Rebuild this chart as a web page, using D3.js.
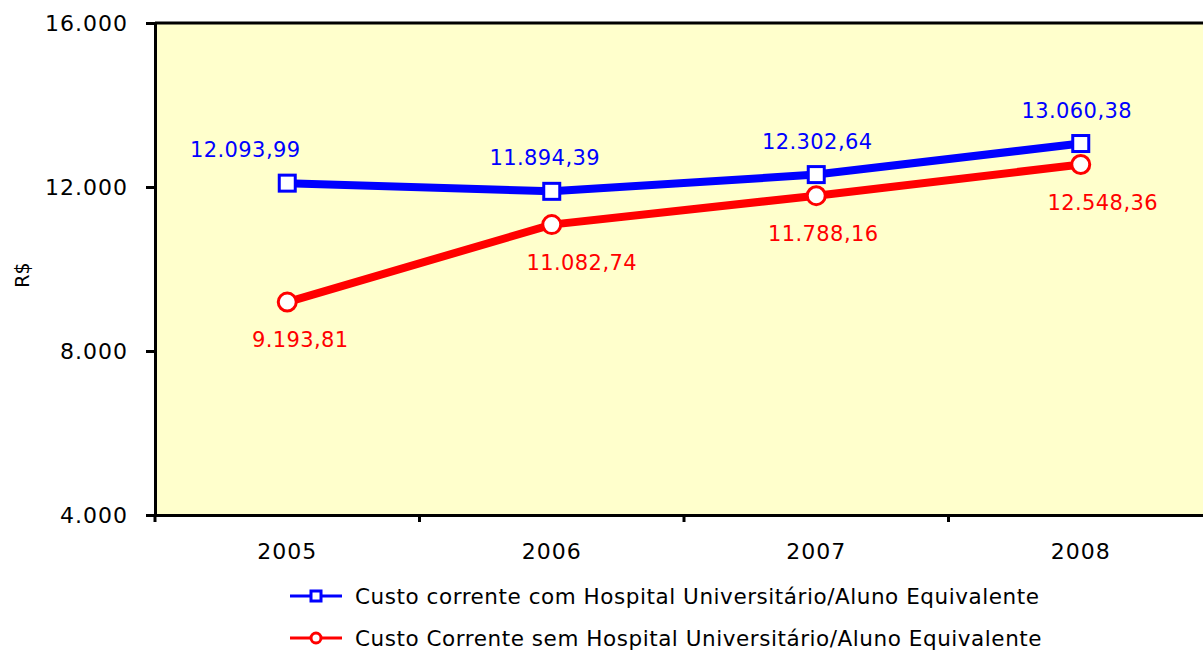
<!DOCTYPE html>
<html>
<head>
<meta charset="utf-8">
<script src="https://cdn.jsdelivr.net/npm/d3@7"></script>
<style>
  body { margin: 0; background: #fff; }
  text { font-family: "DejaVu Sans", Verdana, sans-serif; }
</style>
</head>
<body>
<script>
var years = ["2005", "2006", "2007", "2008"];
var comHospital = [12093.99, 11894.39, 12302.64, 13060.38];
var semHospital = [9193.81, 11082.74, 11788.16, 12548.36];
var yTicks = [4000, 8000, 12000, 16000];
var seriesNames = [
  "Custo corrente com Hospital Universitário/Aluno Equivalente",
  "Custo Corrente sem Hospital Universitário/Aluno Equivalente"
];
// label nudges (px) so they don't sit right on the lines
var comLabelDx = [-42, -7, 1, -4];
var semLabelDx = [13, 30, 7, 22];

var width = 1203, height = 651;
var svg = d3.select("body").append("svg")
  .attr("width", width)
  .attr("height", height);

var x = d3.scaleBand().domain(years).range([155, 1213]);
var y = d3.scaleLinear().domain([4000, 16000]).range([515, 23]);

var fmt = d3.formatLocale({ decimal: ",", thousands: ".", grouping: [3], currency: ["R$", ""] });
var fmtVal = fmt.format(",.2f");

svg.append("rect")
  .attr("x", x.range()[0])
  .attr("y", y(16000))
  .attr("width", x.range()[1] - x.range()[0])
  .attr("height", y(4000) - y(16000))
  .attr("fill", "#ffffcc");

// top border
svg.append("line")
  .attr("x1", x.range()[0]).attr("x2", width)
  .attr("y1", y(16000)).attr("y2", y(16000))
  .attr("stroke", "#000").attr("stroke-width", 3);

var yAxis = svg.append("g")
  .attr("transform", "translate(155,0)")
  .call(d3.axisLeft(y).tickValues(yTicks).tickSize(9).tickPadding(18)
    .tickFormat(d => fmt.format(",")(d)));
yAxis.select(".domain").attr("stroke-width", 3);
yAxis.selectAll(".tick line").attr("stroke-width", 3);
yAxis.selectAll("text").style("font-size", "22px").style("letter-spacing", "1px").attr("fill", "#000");

var xAxis = svg.append("g")
  .attr("transform", "translate(0,515)")
  .call(d3.axisBottom(x).tickSize(0).tickPadding(28));
xAxis.select(".domain").attr("stroke-width", 3);
xAxis.selectAll("text").style("font-size", "22px").style("letter-spacing", "1px").attr("fill", "#000");

// tick marks between categories
svg.append("g").selectAll("line")
  .data(years)
  .enter().append("line")
  .attr("x1", d => x(d)).attr("x2", d => x(d))
  .attr("y1", 515).attr("y2", 522)
  .attr("stroke", "#000").attr("stroke-width", 3);

svg.append("text")
  .attr("transform", "translate(29,275) rotate(-90)")
  .attr("text-anchor", "middle")
  .style("font-size", "19px")
  .text("R$");

var cx = d => x(d) + x.bandwidth() / 2;
var line = d3.line()
  .x(d => cx(d.year))
  .y(d => y(d.value));

var sem = years.map((yr, i) => ({ year: yr, value: semHospital[i], dx: semLabelDx[i] }));
var com = years.map((yr, i) => ({ year: yr, value: comHospital[i], dx: comLabelDx[i] }));

svg.append("path").datum(sem)
  .attr("d", line).attr("fill", "none")
  .attr("stroke", "#ff0000").attr("stroke-width", 8);
svg.append("path").datum(com)
  .attr("d", line).attr("fill", "none")
  .attr("stroke", "#0000ff").attr("stroke-width", 8);

svg.selectAll(".sem-pt")
  .data(sem).enter().append("circle")
  .attr("class", "sem-pt")
  .attr("cx", d => cx(d.year)).attr("cy", d => y(d.value))
  .attr("r", 9)
  .attr("fill", "#fff").attr("stroke", "#ff0000").attr("stroke-width", 3);

svg.selectAll(".com-pt")
  .data(com).enter().append("rect")
  .attr("class", "com-pt")
  .attr("x", d => cx(d.year) - 8).attr("y", d => y(d.value) - 8)
  .attr("width", 16).attr("height", 16)
  .attr("fill", "#fff").attr("stroke", "#0000ff").attr("stroke-width", 3);

svg.selectAll(".com-lbl")
  .data(com).enter().append("text")
  .attr("x", d => cx(d.year) + d.dx).attr("y", d => y(d.value) - 26)
  .attr("text-anchor", "middle")
  .attr("fill", "#0000ff")
  .style("font-size", "21px")
  .style("letter-spacing", "0.4px")
  .text(d => fmtVal(d.value));

svg.selectAll(".sem-lbl")
  .data(sem).enter().append("text")
  .attr("x", d => cx(d.year) + d.dx).attr("y", d => y(d.value) + 45)
  .attr("text-anchor", "middle")
  .attr("fill", "#ff0000")
  .style("font-size", "21px")
  .style("letter-spacing", "0.4px")
  .text(d => fmtVal(d.value));

// legend
var legend = svg.append("g").attr("transform", "translate(290,596)");
var colors = ["#0000ff", "#ff0000"];
seriesNames.forEach(function(name, i) {
  var g = legend.append("g").attr("transform", "translate(0," + (i * 42) + ")");
  g.append("line").attr("x1", 0).attr("x2", 52)
    .attr("stroke", colors[i]).attr("stroke-width", 3);
  if (i === 0) {
    g.append("rect").attr("x", 21).attr("y", -5).attr("width", 10).attr("height", 10)
      .attr("fill", "#fff").attr("stroke", colors[i]).attr("stroke-width", 3);
  } else {
    g.append("circle").attr("cx", 26).attr("r", 5)
      .attr("fill", "#fff").attr("stroke", colors[i]).attr("stroke-width", 3);
  }
  g.append("text").attr("x", 65).attr("y", 8)
    .style("font-size", "21.5px")
    .style("letter-spacing", "0.55px")
    .text(name);
});
</script>
</body>
</html>
